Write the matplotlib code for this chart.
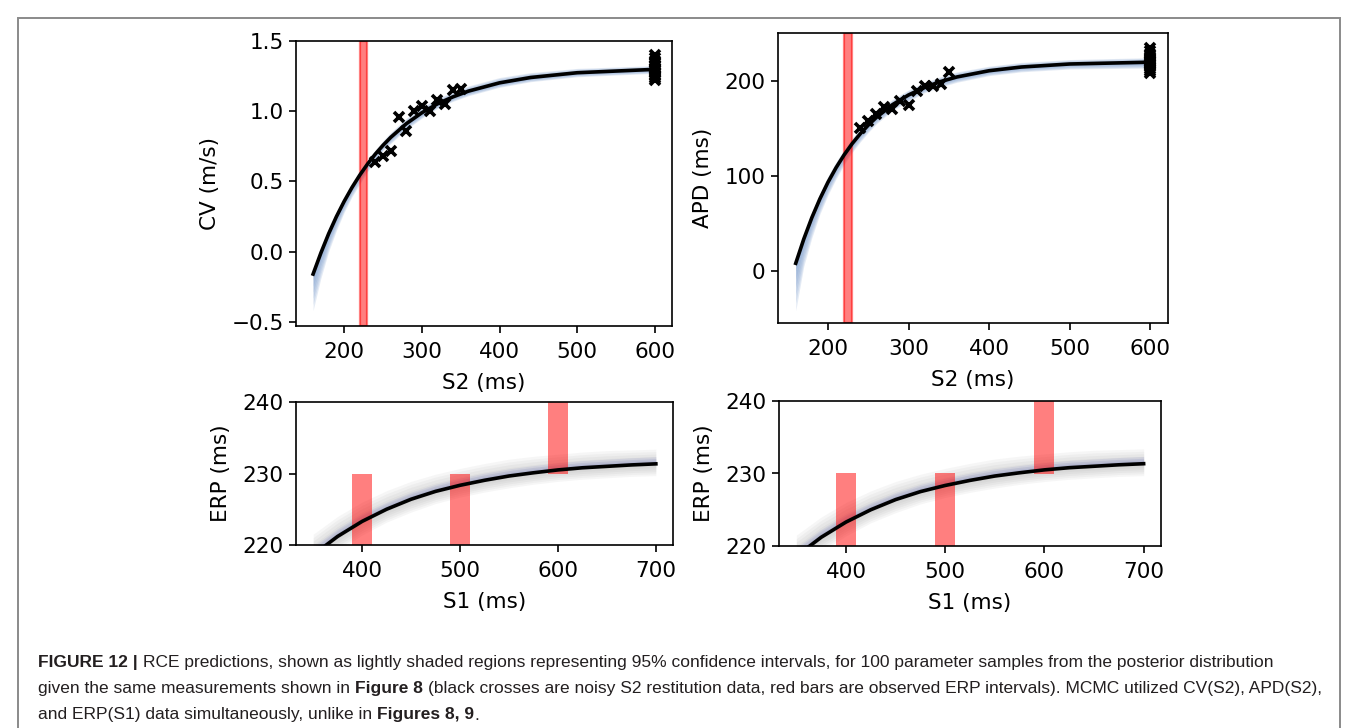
import numpy as np
import matplotlib
matplotlib.use('Agg')
import matplotlib.pyplot as plt
from matplotlib.patches import Rectangle

W, H = 1358, 728

# S2 restitution curves (posterior mean and 95% band)
s2_grid = [160, 170, 180, 190, 200, 210, 220, 230, 240, 250, 260, 280, 300, 320, 340, 360, 400, 440, 500, 600]
cv_mean = [-0.16, -0.01, 0.127, 0.249, 0.358, 0.456, 0.544, 0.623, 0.694, 0.757, 0.814, 0.911, 0.989, 1.052, 1.102, 1.143, 1.202, 1.240, 1.274, 1.298]
cv_lo = [-0.42, -0.19, 0.00, 0.15, 0.28, 0.39, 0.48, 0.57, 0.64, 0.72, 0.77, 0.87, 0.95, 1.02, 1.07, 1.11, 1.17, 1.21, 1.245, 1.27]
cv_hi = [-0.14, 0.01, 0.15, 0.27, 0.38, 0.48, 0.57, 0.65, 0.725, 0.79, 0.85, 0.95, 1.03, 1.09, 1.14, 1.18, 1.24, 1.275, 1.305, 1.325]
apd_mean = [8, 33.6, 56.2, 76.0, 93.5, 108.8, 122.3, 134.2, 144.6, 153.8, 161.9, 175.3, 185.6, 193.6, 199.8, 204.6, 211.2, 215.1, 218.3, 220.2]
apd_lo = [-42, 5, 35, 60, 80, 97, 112, 125, 136, 146, 155, 169, 179, 188, 194, 199, 206, 210, 213, 214]
apd_hi = [10, 38, 62, 82, 100, 115, 128, 140, 150, 159, 167, 181, 191, 199, 205, 210, 216, 220, 223, 225]

# noisy S2 data (crosses)
s2_pts = [240, 250, 260, 270, 280, 290, 300, 310, 320, 330, 340, 350,
          600, 600, 600, 600, 600, 600, 600, 600, 600, 600, 600, 600, 600, 600, 600]
cv_pts = [0.638, 0.683, 0.713, 0.957, 0.862, 1.004, 1.038, 1.002, 1.08, 1.052, 1.151, 1.16,
          1.40, 1.38, 1.36, 1.34, 1.33, 1.32, 1.31, 1.30, 1.29, 1.28, 1.27, 1.26, 1.25, 1.24, 1.22]
apd_pts = [150.8, 158.2, 165.3, 172.4, 170.6, 179, 174.8, 189.6, 194.8, 195.1, 197.7, 210,
           235, 232, 229, 226, 224, 222, 221, 220, 219, 218, 217, 215, 213, 211, 209]

# S1 curve of ERP
s1_grid = [350, 375, 400, 425, 450, 475, 500, 525, 550, 575, 600, 625, 650, 675, 700]
erp_mean = [218.6, 221.2, 223.3, 225.0, 226.4, 227.5, 228.35, 229.05, 229.65, 230.1, 230.5, 230.8, 231.0, 231.2, 231.35]
erp_lo = [216.5, 219.2, 221.4, 223.2, 224.6, 225.8, 226.7, 227.4, 228.0, 228.5, 228.9, 229.2, 229.4, 229.6, 229.7]
erp_hi = [221.5, 224.0, 226.0, 227.6, 228.9, 229.9, 230.7, 231.4, 232.0, 232.4, 232.7, 233.0, 233.2, 233.3, 233.4]
erp_blue_hi = [219.8, 222.3, 224.4, 226.0, 227.4, 228.5, 229.35, 230.05, 230.65, 231.1, 231.5, 231.8, 232.0, 232.2, 232.35]

# observed ERP intervals (red bars)
erp_s1 = [400, 500, 600]
erp_int_lo = [210, 210, 230]
erp_int_hi = [230, 230, 250]
s2_erp = (220, 230)

plt.rcParams['font.size'] = 15.5
plt.rcParams['axes.linewidth'] = 1.2
plt.rcParams['xtick.major.width'] = 1.2
plt.rcParams['ytick.major.width'] = 1.2
plt.rcParams['xtick.major.size'] = 5
plt.rcParams['ytick.major.size'] = 5
plt.rcParams['xtick.major.pad'] = 6.5
plt.rcParams['ytick.major.pad'] = 4
plt.rcParams['axes.labelpad'] = 8

fig = plt.figure(figsize=(W / 100, H / 100), dpi=100)


def px_axes(x0, y0, x1, y1):
    return fig.add_axes([x0 / W, 1 - y1 / H, (x1 - x0) / W, (y1 - y0) / H])


def soft_band(ax, x, lo, hi, mid, color, n=6, alpha=0.12):
    lo, hi, mid = np.asarray(lo), np.asarray(hi), np.asarray(mid)
    for k in range(n):
        f = (k + 1) / n
        ax.fill_between(x, mid - (mid - lo) * f, mid + (hi - mid) * f,
                        color=color, alpha=alpha, lw=0, zorder=1)


# CV(S2)
ax1 = px_axes(296, 41, 672, 326)
ax1.axvspan(*s2_erp, color='red', alpha=0.5, lw=1.6, zorder=2)
soft_band(ax1, s2_grid, cv_lo, cv_hi, cv_mean, '#7b9ccc', n=6, alpha=0.2)
ax1.plot(s2_grid, cv_mean, color='k', lw=2.6, zorder=3)
ax1.plot(s2_pts, cv_pts, 'x', color='k', ms=7, mew=2.6, zorder=4)
ax1.set_xlim(138, 622)
ax1.set_ylim(-0.53, 1.5)
ax1.set_xlabel('S2 (ms)')
ax1.set_ylabel('CV (m/s)')

# APD(S2)
ax2 = px_axes(778, 33, 1168, 323)
ax2.axvspan(*s2_erp, color='red', alpha=0.5, lw=1.6, zorder=2)
soft_band(ax2, s2_grid, apd_lo, apd_hi, apd_mean, '#7b9ccc', n=6, alpha=0.2)
ax2.plot(s2_grid, apd_mean, color='k', lw=2.6, zorder=3)
ax2.plot(s2_pts, apd_pts, 'x', color='k', ms=7, mew=2.6, zorder=4)
ax2.set_xlim(138, 622)
ax2.set_ylim(-55, 251)
ax2.set_yticks([0, 100, 200])
ax2.set_xlabel('S2 (ms)')
ax2.set_ylabel('APD (ms)')

# ERP(S1), same in both bottom panels
for rect in [(296, 402, 673, 545), (779, 401, 1161, 546)]:
    ax = px_axes(*rect)
    soft_band(ax, s1_grid, erp_lo, erp_hi, erp_mean, '#a0a0a0', n=6, alpha=0.09)
    soft_band(ax, s1_grid, erp_mean, erp_blue_hi, erp_mean, '#6670c0', n=4, alpha=0.12)
    ax.bar(erp_s1, np.subtract(erp_int_hi, erp_int_lo), bottom=erp_int_lo, width=20,
           color='red', alpha=0.5, lw=0, zorder=2)
    ax.plot(s1_grid, erp_mean, color='k', lw=2.6, zorder=3)
    ax.set_xlim(332.5, 717.5)
    ax.set_ylim(220, 240)
    ax.set_xticks([400, 500, 600, 700])
    ax.set_yticks([220, 230, 240])
    ax.set_xlabel('S1 (ms)')
    ax.set_ylabel('ERP (ms)')

# frame around figure + caption
fig.patches.append(Rectangle((18 / W, -0.05), (1340 - 18) / W, 1.05 - 18 / H,
                             transform=fig.transFigure, fill=False,
                             edgecolor='#8a8a8a', lw=1.4))

cap_lines = [
    [("FIGURE 12 |", 'bold'), (" RCE predictions, shown as lightly shaded regions representing 95% confidence intervals, for 100 parameter samples from the posterior distribution", 'normal')],
    [("given the same measurements shown in", 'normal'), (" Figure 8", 'bold'),
     (" (black crosses are noisy S2 restitution data, red bars are observed ERP intervals). MCMC utilized CV(S2), APD(S2),", 'normal')],
    [("and ERP(S1) data simultaneously, unlike in", 'normal'), (" Figures 8, 9", 'bold'), (".", 'normal')],
]
cap_y = [663, 689, 715]
cap_x0 = 38
cap_font = ['Liberation Sans', 'DejaVu Sans']
cap_color = '#231f20'

renderer = fig.canvas.get_renderer()


def text_w(s, weight, size):
    t = fig.text(0, 0, s, fontsize=size, family=cap_font, weight=weight)
    w = t.get_window_extent(renderer).width
    t.remove()
    return w


def line_w(line, size):
    w = 0
    for s, wt in line:
        if s.startswith(' '):
            w += text_w('a a', wt, size) - text_w('aa', wt, size)
            s = s[1:]
        w += text_w(s, wt, size)
    return w


# one size for all lines: widest line ends a little inside the frame
cap_size = 12.0 * (1322 - cap_x0) / max(line_w(l, 12.0) for l in cap_lines)

for line, yy in zip(cap_lines, cap_y):
    x = cap_x0
    for s, wt in line:
        if s.startswith(' '):
            x += text_w('a a', wt, cap_size) - text_w('aa', wt, cap_size)
            s = s[1:]
        t = fig.text(x / W, 1 - yy / H, s, fontsize=cap_size, family=cap_font,
                     weight=wt, color=cap_color, va='center', ha='left')
        x += t.get_window_extent(renderer).width

fig.savefig('out.png', dpi=100)
